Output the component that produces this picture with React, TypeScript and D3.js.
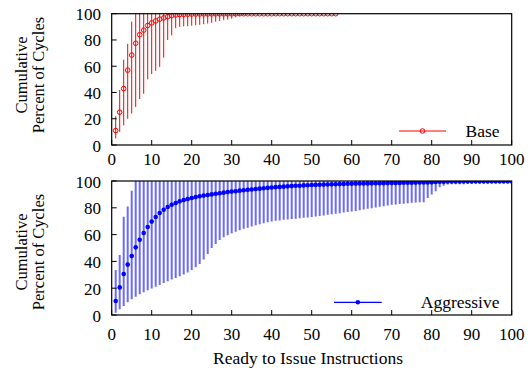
import React from "react";
import * as d3 from "d3";

// Base: ready-to-issue count 1..56
const baseMean = [
  11, 25, 43, 57, 68.5, 77.5, 84, 87.5, 91, 93,
  94.5, 95.8, 96.8, 97.7, 98.5, 99, 99.3, 99.5, 99.6, 99.7,
  99.75, 99.8, 99.85, 99.85, 99.85, 99.9, 99.9, 99.9, 99.9, 99.9,
  99.95, 99.95, 99.95, 99.95, 99.95, 99.95, 99.95, 99.95, 99.95, 99.95,
  100, 100, 100, 100, 100, 100, 100, 100, 100, 100,
  100, 100, 100, 100, 100, 100,
];
const baseLow = [
  5, 10, 15, 20, 24, 29, 35, 39, 50, 54,
  56.5, 59.5, 66.5, 80, 83.5, 89, 90, 90.4, 90.5, 90.9,
  91.2, 91.5, 92, 92.5, 93, 93.9, 94.4, 95, 95.5, 96.3,
  97.3, 98.3, 98.8, 99.2, 99.5, 99.5, 99.6, 99.6, 99.7, 99.7,
  99.7, 99.8, 99.8, 99.8, 99.8, 99.8, 99.9, 99.9, 99.9, 99.9,
  99.9, 99.9, 99.9, 99.9, 99.9, 99.9,
];
const baseHigh = [
  22, 42, 65, 77, 94, 100, 100, 100, 100, 100,
  100, 100, 100, 100, 100, 100, 100, 100, 100, 100,
  100, 100, 100, 100, 100, 100, 100, 100, 100, 100,
  100, 100, 100, 100, 100, 100, 100, 100, 100, 100,
  100, 100, 100, 100, 100, 100, 100, 100, 100, 100,
  100, 100, 100, 100, 100, 100,
];

// Aggressive: ready-to-issue count 1..100
const aggMean = [
  10.4, 20.6, 30.6, 37.6, 44, 50.5, 56.2, 61.2, 65.7, 69.7,
  73.1, 76.1, 78.6, 80.6, 82.3, 83.6, 84.8, 85.8, 86.6, 87.3,
  88, 88.6, 89.1, 89.6, 90, 90.5, 90.9, 91.3, 91.7, 92.1,
  92.4, 92.8, 93.1, 93.4, 93.7, 94, 94.3, 94.6, 94.9, 95.2,
  95.4, 95.6, 95.8, 96, 96.2, 96.4, 96.5, 96.7, 96.8, 97,
  97.1, 97.2, 97.3, 97.4, 97.5, 97.6, 97.7, 97.8, 97.9, 98,
  98.05, 98.1, 98.15, 98.2, 98.25, 98.3, 98.35, 98.4, 98.45, 98.5,
  98.55, 98.6, 98.65, 98.7, 98.75, 98.8, 98.85, 98.9, 98.95, 99,
  99.2, 99.4, 99.5, 99.6, 99.7, 99.7, 99.7, 99.75, 99.75, 99.75,
  99.8, 99.8, 99.8, 99.85, 99.85, 99.85, 99.9, 99.9, 99.9, 99.9,
];
const aggLow = [
  1.7, 4.2, 6.7, 9.5, 11.7, 13.7, 15.4, 17, 18.4, 19.7,
  21, 22.4, 23.9, 25.1, 26.4, 27.6, 29, 30.3, 31.8, 33.6,
  35.6, 38, 41.5, 45.5, 50, 53, 56, 58, 59.5, 61,
  62.2, 63.3, 64.3, 65.2, 66.1, 67, 67.8, 68.5, 69.2, 69.8,
  70.3, 70.6, 71, 71.3, 71.6, 71.9, 72.2, 72.5, 72.8, 73.1,
  73.5, 73.9, 74.3, 74.8, 75.2, 75.6, 76, 76.4, 76.8, 77.2,
  77.7, 78.2, 78.7, 79.2, 79.7, 80.2, 80.7, 81.2, 81.7, 82.2,
  82.5, 82.8, 83.1, 83.4, 83.7, 84, 84.1, 84.2, 87.4, 89.9,
  92.3, 95.3, 96.5, 97.3, 97.5, 97.5, 97.6, 97.6, 97.7, 97.7,
  97.7, 97.8, 97.8, 97.8, 97.9, 97.9, 97.9, 98, 98, 98,
];
const aggHigh = [
  33.6, 44.8, 73.4, 81, 92.8, 100, 100, 100, 100, 100,
  ...new Array(90).fill(100),
];

const xTicks = [0, 10, 20, 30, 40, 50, 60, 70, 80, 90, 100];
const yTicks = [0, 20, 40, 60, 80, 100];

const W = 528;
const H = 373;
const left = 111.7;
const right = 511.7;
const font = "'Liberation Serif', 'Times New Roman', serif";

const x = d3.scaleLinear().domain([0, 100]).range([left, right]);

function Panel({
  top,
  bottom,
  mean,
  low,
  high,
  label,
  kind,
  tickBase,
  legendY,
  legendLine,
  titleY,
}: any) {
  const y = d3.scaleLinear().domain([0, 100]).range([bottom, top]);
  const id = "clip" + kind;
  const red = kind === "base";
  const barColor = red ? "#ff0000" : "#6a6aff";
  const dotColor = red ? "#ff0000" : "#0000ff";
  const pts = mean.map((m: number, i: number) => ({
    n: i + 1,
    m,
    lo: low[i],
    hi: high[i],
  }));
  return (
    <g>
      <clipPath id={id}>
        <rect x={left} y={top} width={right - left} height={bottom - top} />
      </clipPath>
      <g clipPath={`url(#${id})`}>
        {pts.map((p: any) => (
          <line
            key={"b" + p.n}
            x1={x(p.n)}
            x2={x(p.n)}
            y1={y(p.lo)}
            y2={y(p.hi)}
            stroke={barColor}
            strokeWidth={red ? 1 : 2}
          />
        ))}
        {pts.map((p: any) =>
          red ? (
            <circle
              key={"p" + p.n}
              cx={x(p.n)}
              cy={y(p.m)}
              r={2.3}
              fill="none"
              stroke={dotColor}
              strokeWidth={1}
            />
          ) : (
            <circle key={"p" + p.n} cx={x(p.n)} cy={y(p.m)} r={2.3} fill={dotColor} />
          )
        )}
      </g>
      {/* frame */}
      <rect
        x={left}
        y={top}
        width={right - left}
        height={bottom - top}
        fill="none"
        stroke="#000"
        strokeWidth={1.2}
      />
      {xTicks.map((t) => (
        <g key={"x" + t}>
          <line x1={x(t)} x2={x(t)} y1={bottom} y2={bottom - 5} stroke="#000" />
          <text x={x(t)} y={tickBase} textAnchor="middle" fontSize={17} fontFamily={font}>
            {t}
          </text>
        </g>
      ))}
      {yTicks.map((t) => (
        <g key={"y" + t}>
          <line x1={left} x2={left + 5} y1={y(t)} y2={y(t)} stroke="#000" />
          <text x={101} y={y(t) + 6.5} textAnchor="end" fontSize={17} fontFamily={font}>
            {t}
          </text>
        </g>
      ))}
      {/* legend */}
      <line
        x1={legendLine[0]}
        x2={legendLine[1]}
        y1={legendY}
        y2={legendY}
        stroke={dotColor}
        strokeWidth={1.2}
      />
      {red ? (
        <circle
          cx={(legendLine[0] + legendLine[1]) / 2}
          cy={legendY}
          r={2.3}
          fill="none"
          stroke={dotColor}
        />
      ) : (
        <circle cx={(legendLine[0] + legendLine[1]) / 2} cy={legendY} r={2.3} fill={dotColor} />
      )}
      <text x={499.5} y={legendY + 6} textAnchor="end" fontSize={17.5} fontFamily={font}>
        {label}
      </text>
      {/* y title */}
      <text
        transform={`translate(27,${titleY}) rotate(-90)`}
        textAnchor="middle"
        fontSize={16.5}
        fontFamily={font}
      >
        Cumulative
      </text>
      <text
        transform={`translate(43.5,${titleY}) rotate(-90)`}
        textAnchor="middle"
        fontSize={16.5}
        fontFamily={font}
      >
        Percent of Cycles
      </text>
    </g>
  );
}

export default function App() {
  return (
    <svg
      width={W}
      height={H}
      viewBox={`0 0 ${W} ${H}`}
      style={{ position: "absolute", left: 0, top: 0, background: "#fff" }}
    >
      <rect width={W} height={H} fill="#fff" />
      <Panel
        top={13.7}
        bottom={145}
        mean={baseMean}
        low={baseLow}
        high={baseHigh}
        label="Base"
        kind="base"
        tickBase={164.5}
        legendY={131}
        legendLine={[399, 446]}
        titleY={75}
      />
      <Panel
        top={181}
        bottom={315}
        mean={aggMean}
        low={aggLow}
        high={aggHigh}
        label="Aggressive"
        kind="agg"
        tickBase={339.5}
        legendY={302.3}
        legendLine={[334, 381.7]}
        titleY={252}
      />
      <text x={308} y={363.5} textAnchor="middle" fontSize={17.5} fontFamily={font}>
        Ready to Issue Instructions
      </text>
    </svg>
  );
}
